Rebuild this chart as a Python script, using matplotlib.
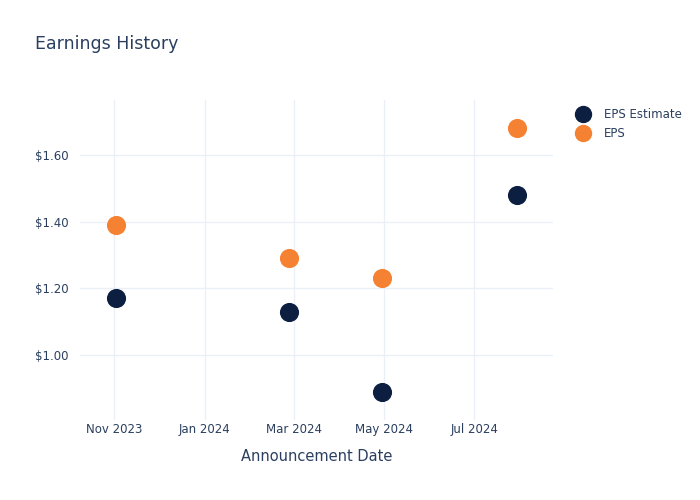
import matplotlib
matplotlib.use("Agg")
import matplotlib.pyplot as plt
import matplotlib.dates as mdates
import pandas as pd
from matplotlib.ticker import FuncFormatter
from matplotlib.lines import Line2D

dates = pd.to_datetime(["2023-11-02", "2024-02-27", "2024-04-30", "2024-07-30"])
eps_estimate = [1.17, 1.13, 0.89, 1.48]
eps_actual = [1.39, 1.29, 1.23, 1.68]

text_color = "#2a3f5f"
grid_color = "#ebf0f8"
navy = "#0c1f40"
orange = "#f58233"

fig = plt.figure(figsize=(7, 5), dpi=100)
ax = fig.add_axes([80 / 700, 80 / 500, 473 / 700, 320 / 500])

ax.scatter(dates, eps_estimate, s=190, color=navy, zorder=3, linewidths=0)
ax.scatter(dates, eps_actual, s=190, color=orange, zorder=3, linewidths=0)

ax.set_xlim(pd.Timestamp("2023-10-09"), pd.Timestamp("2024-08-23"))
ax.set_ylim(0.805, 1.765)
ax.set_yticks([1.0, 1.2, 1.4, 1.6])
ax.yaxis.set_major_formatter(FuncFormatter(lambda v, p: f"${v:.2f}"))
ax.xaxis.set_major_locator(mdates.MonthLocator(bymonth=[1, 3, 5, 7, 11]))
ax.xaxis.set_major_formatter(mdates.DateFormatter("%b %Y"))

ax.grid(True, color=grid_color, linewidth=1)
ax.set_axisbelow(True)
for s in ax.spines.values():
    s.set_visible(False)
ax.tick_params(length=0, colors=text_color, labelsize=8.5)
ax.tick_params(axis="y", pad=8)
ax.tick_params(axis="x", pad=2.5)
ax.set_xlabel("Announcement Date", color=text_color, fontsize=10.5, labelpad=9)

fig.text(35 / 700, 1 - 44 / 500, "Earnings History", color=text_color,
         fontsize=12.5, va="center", ha="left")

handles = [
    Line2D([], [], marker="o", linestyle="", markersize=11.5, color=navy),
    Line2D([], [], marker="o", linestyle="", markersize=11.5, color=orange),
]
leg = fig.legend(handles, ["EPS Estimate", "EPS"], loc="upper left",
                 bbox_to_anchor=(574 / 700, 1 - 108 / 500), frameon=False,
                 fontsize=8.5, handletextpad=1.05, labelspacing=0.55,
                 handlelength=1.5, borderaxespad=0, borderpad=0)
for t in leg.get_texts():
    t.set_color(text_color)

fig.savefig("out.png", dpi=100)
